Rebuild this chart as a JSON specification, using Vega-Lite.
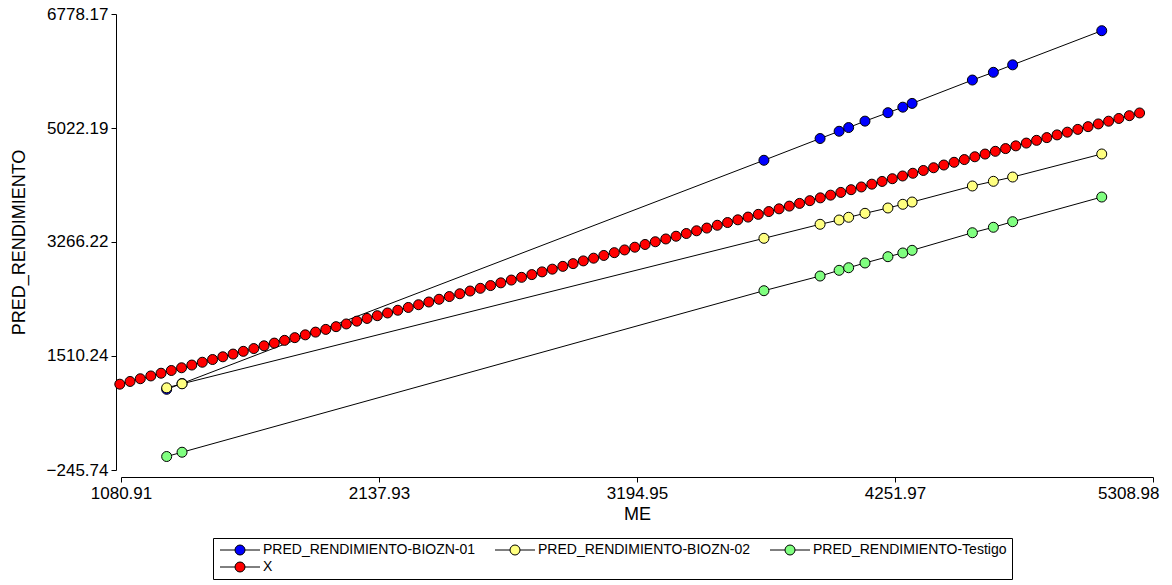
{
  "$schema": "https://vega.github.io/schema/vega-lite/v6.json",
  "width": 1032,
  "height": 456,
  "autosize": {"type": "none"},
  "padding": {"left": 121, "top": 14, "right": 19, "bottom": 115},
  "background": "white",
  "config": {
    "view": {"stroke": null},
    "font": "Liberation Sans",
    "axis": {
      "grid": false,
      "domainColor": "black",
      "tickColor": "black",
      "labelColor": "black",
      "titleColor": "black",
      "labelFont": "Liberation Sans",
      "titleFont": "Liberation Sans",
      "labelFontSize": 17,
      "titleFontSize": 18,
      "titleFontWeight": "normal",
      "tickSize": 5,
      "labelFlush": false,
      "labelOverlap": false
    }
  },
  "data": {
    "values": [
      {"Serie": "PRED_RENDIMIENTO-BIOZN-01", "ME": 1268, "PRED_RENDIMIENTO": 997},
      {"Serie": "PRED_RENDIMIENTO-BIOZN-01", "ME": 1331, "PRED_RENDIMIENTO": 1087},
      {"Serie": "PRED_RENDIMIENTO-BIOZN-01", "ME": 3715, "PRED_RENDIMIENTO": 4525},
      {"Serie": "PRED_RENDIMIENTO-BIOZN-01", "ME": 3945, "PRED_RENDIMIENTO": 4860},
      {"Serie": "PRED_RENDIMIENTO-BIOZN-01", "ME": 4023, "PRED_RENDIMIENTO": 4972},
      {"Serie": "PRED_RENDIMIENTO-BIOZN-01", "ME": 4062, "PRED_RENDIMIENTO": 5029},
      {"Serie": "PRED_RENDIMIENTO-BIOZN-01", "ME": 4129, "PRED_RENDIMIENTO": 5128},
      {"Serie": "PRED_RENDIMIENTO-BIOZN-01", "ME": 4223, "PRED_RENDIMIENTO": 5258},
      {"Serie": "PRED_RENDIMIENTO-BIOZN-01", "ME": 4284, "PRED_RENDIMIENTO": 5343},
      {"Serie": "PRED_RENDIMIENTO-BIOZN-01", "ME": 4322, "PRED_RENDIMIENTO": 5401},
      {"Serie": "PRED_RENDIMIENTO-BIOZN-01", "ME": 4569, "PRED_RENDIMIENTO": 5761},
      {"Serie": "PRED_RENDIMIENTO-BIOZN-01", "ME": 4655, "PRED_RENDIMIENTO": 5880},
      {"Serie": "PRED_RENDIMIENTO-BIOZN-01", "ME": 4734, "PRED_RENDIMIENTO": 5995},
      {"Serie": "PRED_RENDIMIENTO-BIOZN-01", "ME": 5099, "PRED_RENDIMIENTO": 6521},
      {"Serie": "PRED_RENDIMIENTO-BIOZN-02", "ME": 1268, "PRED_RENDIMIENTO": 1020},
      {"Serie": "PRED_RENDIMIENTO-BIOZN-02", "ME": 1331, "PRED_RENDIMIENTO": 1082},
      {"Serie": "PRED_RENDIMIENTO-BIOZN-02", "ME": 3715, "PRED_RENDIMIENTO": 3323},
      {"Serie": "PRED_RENDIMIENTO-BIOZN-02", "ME": 3945, "PRED_RENDIMIENTO": 3539},
      {"Serie": "PRED_RENDIMIENTO-BIOZN-02", "ME": 4023, "PRED_RENDIMIENTO": 3605},
      {"Serie": "PRED_RENDIMIENTO-BIOZN-02", "ME": 4062, "PRED_RENDIMIENTO": 3647},
      {"Serie": "PRED_RENDIMIENTO-BIOZN-02", "ME": 4129, "PRED_RENDIMIENTO": 3708},
      {"Serie": "PRED_RENDIMIENTO-BIOZN-02", "ME": 4223, "PRED_RENDIMIENTO": 3790},
      {"Serie": "PRED_RENDIMIENTO-BIOZN-02", "ME": 4284, "PRED_RENDIMIENTO": 3847},
      {"Serie": "PRED_RENDIMIENTO-BIOZN-02", "ME": 4322, "PRED_RENDIMIENTO": 3882},
      {"Serie": "PRED_RENDIMIENTO-BIOZN-02", "ME": 4569, "PRED_RENDIMIENTO": 4129},
      {"Serie": "PRED_RENDIMIENTO-BIOZN-02", "ME": 4655, "PRED_RENDIMIENTO": 4201},
      {"Serie": "PRED_RENDIMIENTO-BIOZN-02", "ME": 4734, "PRED_RENDIMIENTO": 4267},
      {"Serie": "PRED_RENDIMIENTO-BIOZN-02", "ME": 5099, "PRED_RENDIMIENTO": 4622},
      {"Serie": "PRED_RENDIMIENTO-Testigo", "ME": 1268, "PRED_RENDIMIENTO": -38},
      {"Serie": "PRED_RENDIMIENTO-Testigo", "ME": 1331, "PRED_RENDIMIENTO": 28},
      {"Serie": "PRED_RENDIMIENTO-Testigo", "ME": 3715, "PRED_RENDIMIENTO": 2516},
      {"Serie": "PRED_RENDIMIENTO-Testigo", "ME": 3945, "PRED_RENDIMIENTO": 2742},
      {"Serie": "PRED_RENDIMIENTO-Testigo", "ME": 4023, "PRED_RENDIMIENTO": 2830},
      {"Serie": "PRED_RENDIMIENTO-Testigo", "ME": 4062, "PRED_RENDIMIENTO": 2870},
      {"Serie": "PRED_RENDIMIENTO-Testigo", "ME": 4129, "PRED_RENDIMIENTO": 2943},
      {"Serie": "PRED_RENDIMIENTO-Testigo", "ME": 4223, "PRED_RENDIMIENTO": 3040},
      {"Serie": "PRED_RENDIMIENTO-Testigo", "ME": 4284, "PRED_RENDIMIENTO": 3097},
      {"Serie": "PRED_RENDIMIENTO-Testigo", "ME": 4322, "PRED_RENDIMIENTO": 3138},
      {"Serie": "PRED_RENDIMIENTO-Testigo", "ME": 4569, "PRED_RENDIMIENTO": 3409},
      {"Serie": "PRED_RENDIMIENTO-Testigo", "ME": 4655, "PRED_RENDIMIENTO": 3493},
      {"Serie": "PRED_RENDIMIENTO-Testigo", "ME": 4734, "PRED_RENDIMIENTO": 3579},
      {"Serie": "PRED_RENDIMIENTO-Testigo", "ME": 5099, "PRED_RENDIMIENTO": 3959},
      {"Serie": "X", "ME": 1076, "PRED_RENDIMIENTO": 1076},
      {"Serie": "X", "ME": 1118, "PRED_RENDIMIENTO": 1118},
      {"Serie": "X", "ME": 1160, "PRED_RENDIMIENTO": 1160},
      {"Serie": "X", "ME": 1203, "PRED_RENDIMIENTO": 1203},
      {"Serie": "X", "ME": 1245, "PRED_RENDIMIENTO": 1245},
      {"Serie": "X", "ME": 1287, "PRED_RENDIMIENTO": 1287},
      {"Serie": "X", "ME": 1329, "PRED_RENDIMIENTO": 1329},
      {"Serie": "X", "ME": 1371, "PRED_RENDIMIENTO": 1371},
      {"Serie": "X", "ME": 1414, "PRED_RENDIMIENTO": 1414},
      {"Serie": "X", "ME": 1456, "PRED_RENDIMIENTO": 1456},
      {"Serie": "X", "ME": 1498, "PRED_RENDIMIENTO": 1498},
      {"Serie": "X", "ME": 1540, "PRED_RENDIMIENTO": 1540},
      {"Serie": "X", "ME": 1582, "PRED_RENDIMIENTO": 1582},
      {"Serie": "X", "ME": 1625, "PRED_RENDIMIENTO": 1625},
      {"Serie": "X", "ME": 1667, "PRED_RENDIMIENTO": 1667},
      {"Serie": "X", "ME": 1709, "PRED_RENDIMIENTO": 1709},
      {"Serie": "X", "ME": 1751, "PRED_RENDIMIENTO": 1751},
      {"Serie": "X", "ME": 1793, "PRED_RENDIMIENTO": 1793},
      {"Serie": "X", "ME": 1836, "PRED_RENDIMIENTO": 1836},
      {"Serie": "X", "ME": 1878, "PRED_RENDIMIENTO": 1878},
      {"Serie": "X", "ME": 1920, "PRED_RENDIMIENTO": 1920},
      {"Serie": "X", "ME": 1962, "PRED_RENDIMIENTO": 1962},
      {"Serie": "X", "ME": 2004, "PRED_RENDIMIENTO": 2004},
      {"Serie": "X", "ME": 2047, "PRED_RENDIMIENTO": 2047},
      {"Serie": "X", "ME": 2089, "PRED_RENDIMIENTO": 2089},
      {"Serie": "X", "ME": 2131, "PRED_RENDIMIENTO": 2131},
      {"Serie": "X", "ME": 2173, "PRED_RENDIMIENTO": 2173},
      {"Serie": "X", "ME": 2215, "PRED_RENDIMIENTO": 2215},
      {"Serie": "X", "ME": 2258, "PRED_RENDIMIENTO": 2258},
      {"Serie": "X", "ME": 2300, "PRED_RENDIMIENTO": 2300},
      {"Serie": "X", "ME": 2342, "PRED_RENDIMIENTO": 2342},
      {"Serie": "X", "ME": 2384, "PRED_RENDIMIENTO": 2384},
      {"Serie": "X", "ME": 2426, "PRED_RENDIMIENTO": 2426},
      {"Serie": "X", "ME": 2469, "PRED_RENDIMIENTO": 2469},
      {"Serie": "X", "ME": 2511, "PRED_RENDIMIENTO": 2511},
      {"Serie": "X", "ME": 2553, "PRED_RENDIMIENTO": 2553},
      {"Serie": "X", "ME": 2595, "PRED_RENDIMIENTO": 2595},
      {"Serie": "X", "ME": 2637, "PRED_RENDIMIENTO": 2637},
      {"Serie": "X", "ME": 2680, "PRED_RENDIMIENTO": 2680},
      {"Serie": "X", "ME": 2722, "PRED_RENDIMIENTO": 2722},
      {"Serie": "X", "ME": 2764, "PRED_RENDIMIENTO": 2764},
      {"Serie": "X", "ME": 2806, "PRED_RENDIMIENTO": 2806},
      {"Serie": "X", "ME": 2848, "PRED_RENDIMIENTO": 2848},
      {"Serie": "X", "ME": 2891, "PRED_RENDIMIENTO": 2891},
      {"Serie": "X", "ME": 2933, "PRED_RENDIMIENTO": 2933},
      {"Serie": "X", "ME": 2975, "PRED_RENDIMIENTO": 2975},
      {"Serie": "X", "ME": 3017, "PRED_RENDIMIENTO": 3017},
      {"Serie": "X", "ME": 3059, "PRED_RENDIMIENTO": 3059},
      {"Serie": "X", "ME": 3102, "PRED_RENDIMIENTO": 3102},
      {"Serie": "X", "ME": 3144, "PRED_RENDIMIENTO": 3144},
      {"Serie": "X", "ME": 3186, "PRED_RENDIMIENTO": 3186},
      {"Serie": "X", "ME": 3228, "PRED_RENDIMIENTO": 3228},
      {"Serie": "X", "ME": 3270, "PRED_RENDIMIENTO": 3270},
      {"Serie": "X", "ME": 3313, "PRED_RENDIMIENTO": 3313},
      {"Serie": "X", "ME": 3355, "PRED_RENDIMIENTO": 3355},
      {"Serie": "X", "ME": 3397, "PRED_RENDIMIENTO": 3397},
      {"Serie": "X", "ME": 3439, "PRED_RENDIMIENTO": 3439},
      {"Serie": "X", "ME": 3481, "PRED_RENDIMIENTO": 3481},
      {"Serie": "X", "ME": 3524, "PRED_RENDIMIENTO": 3524},
      {"Serie": "X", "ME": 3566, "PRED_RENDIMIENTO": 3566},
      {"Serie": "X", "ME": 3608, "PRED_RENDIMIENTO": 3608},
      {"Serie": "X", "ME": 3650, "PRED_RENDIMIENTO": 3650},
      {"Serie": "X", "ME": 3692, "PRED_RENDIMIENTO": 3692},
      {"Serie": "X", "ME": 3735, "PRED_RENDIMIENTO": 3735},
      {"Serie": "X", "ME": 3777, "PRED_RENDIMIENTO": 3777},
      {"Serie": "X", "ME": 3819, "PRED_RENDIMIENTO": 3819},
      {"Serie": "X", "ME": 3861, "PRED_RENDIMIENTO": 3861},
      {"Serie": "X", "ME": 3903, "PRED_RENDIMIENTO": 3903},
      {"Serie": "X", "ME": 3946, "PRED_RENDIMIENTO": 3946},
      {"Serie": "X", "ME": 3988, "PRED_RENDIMIENTO": 3988},
      {"Serie": "X", "ME": 4030, "PRED_RENDIMIENTO": 4030},
      {"Serie": "X", "ME": 4072, "PRED_RENDIMIENTO": 4072},
      {"Serie": "X", "ME": 4114, "PRED_RENDIMIENTO": 4114},
      {"Serie": "X", "ME": 4157, "PRED_RENDIMIENTO": 4157},
      {"Serie": "X", "ME": 4199, "PRED_RENDIMIENTO": 4199},
      {"Serie": "X", "ME": 4241, "PRED_RENDIMIENTO": 4241},
      {"Serie": "X", "ME": 4283, "PRED_RENDIMIENTO": 4283},
      {"Serie": "X", "ME": 4325, "PRED_RENDIMIENTO": 4325},
      {"Serie": "X", "ME": 4368, "PRED_RENDIMIENTO": 4368},
      {"Serie": "X", "ME": 4410, "PRED_RENDIMIENTO": 4410},
      {"Serie": "X", "ME": 4452, "PRED_RENDIMIENTO": 4452},
      {"Serie": "X", "ME": 4494, "PRED_RENDIMIENTO": 4494},
      {"Serie": "X", "ME": 4536, "PRED_RENDIMIENTO": 4536},
      {"Serie": "X", "ME": 4579, "PRED_RENDIMIENTO": 4579},
      {"Serie": "X", "ME": 4621, "PRED_RENDIMIENTO": 4621},
      {"Serie": "X", "ME": 4663, "PRED_RENDIMIENTO": 4663},
      {"Serie": "X", "ME": 4705, "PRED_RENDIMIENTO": 4705},
      {"Serie": "X", "ME": 4747, "PRED_RENDIMIENTO": 4747},
      {"Serie": "X", "ME": 4790, "PRED_RENDIMIENTO": 4790},
      {"Serie": "X", "ME": 4832, "PRED_RENDIMIENTO": 4832},
      {"Serie": "X", "ME": 4874, "PRED_RENDIMIENTO": 4874},
      {"Serie": "X", "ME": 4916, "PRED_RENDIMIENTO": 4916},
      {"Serie": "X", "ME": 4958, "PRED_RENDIMIENTO": 4958},
      {"Serie": "X", "ME": 5001, "PRED_RENDIMIENTO": 5001},
      {"Serie": "X", "ME": 5043, "PRED_RENDIMIENTO": 5043},
      {"Serie": "X", "ME": 5085, "PRED_RENDIMIENTO": 5085},
      {"Serie": "X", "ME": 5127, "PRED_RENDIMIENTO": 5127},
      {"Serie": "X", "ME": 5169, "PRED_RENDIMIENTO": 5169},
      {"Serie": "X", "ME": 5212, "PRED_RENDIMIENTO": 5212},
      {"Serie": "X", "ME": 5254, "PRED_RENDIMIENTO": 5254}
    ]
  },
  "encoding": {
    "x": {
      "field": "ME",
      "type": "quantitative",
      "title": "ME",
      "scale": {"domain": [1080.91, 5308.98], "nice": false, "zero": false},
      "axis": {
        "values": [1080.91, 2137.93, 3194.95, 4251.97, 5308.98],
        "format": ".2f",
        "offset": 7,
        "labelPadding": 3,
        "titlePadding": 4,
        "labelAlign": {"condition": {"test": "datum.value > 5000", "value": "right"}, "value": "center"},
        "labelOffset": {"condition": {"test": "datum.value > 5000", "value": 6}, "value": 0}
      }
    },
    "y": {
      "field": "PRED_RENDIMIENTO",
      "type": "quantitative",
      "title": "PRED_RENDIMIENTO",
      "scale": {"domain": [-245.74, 6778.17], "nice": false, "zero": false},
      "axis": {
        "values": [-245.74, 1510.24, 3266.22, 5022.19, 6778.17],
        "format": ".2f",
        "offset": 5,
        "labelPadding": 3,
        "titlePadding": 18
      }
    }
  },
  "layer": [
    {
      "mark": {"type": "line", "color": "black", "strokeWidth": 1},
      "encoding": {"detail": {"field": "Serie"}}
    },
    {
      "mark": {"type": "point", "shape": "circle", "filled": true, "size": 100, "stroke": "black", "strokeWidth": 1, "opacity": 1},
      "encoding": {
        "color": {
          "field": "Serie",
          "type": "nominal",
          "scale": {
            "domain": ["PRED_RENDIMIENTO-BIOZN-01", "PRED_RENDIMIENTO-BIOZN-02", "PRED_RENDIMIENTO-Testigo", "X"],
            "range": ["#0000FF", "#FFFF80", "#80FF80", "#FF0000"]
          },
          "legend": {
            "orient": "none",
            "legendX": 92,
            "legendY": 524,
            "columns": 3,
            "direction": "horizontal",
            "title": null,
            "symbolType": "M-4,0H-1M1,0H4M1,0A1,1,0,1,1,-1,0A1,1,0,1,1,1,0Z",
            "symbolSize": 100,
            "symbolOffset": 15,
            "symbolStrokeColor": "black",
            "symbolStrokeWidth": 1,
            "symbolOpacity": 1,
            "labelFontSize": 14,
            "labelFont": "Liberation Sans",
            "labelColor": "black",
            "labelLimit": 400,
            "strokeColor": "black",
            "padding": 5,
            "columnPadding": 17,
            "rowPadding": 3,
            "labelOffset": 16
          }
        }
      }
    }
  ]
}
